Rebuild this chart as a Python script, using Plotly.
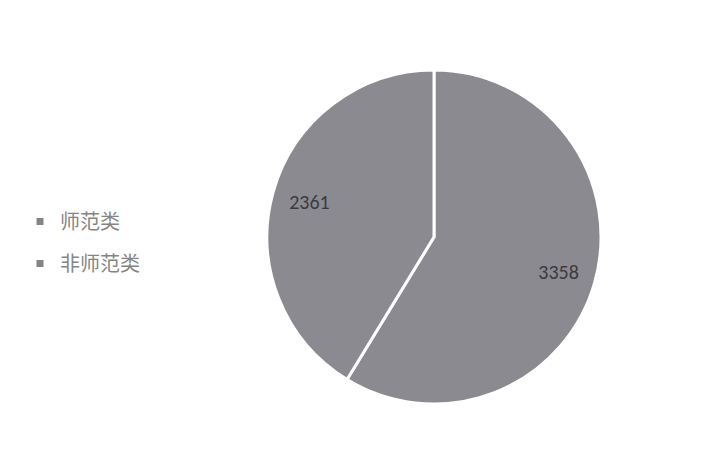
import plotly.graph_objects as go

categories = ["师范类", "非师范类"]
values = [3358, 2361]
slice_colors = ["#8b8a91", "#8b8a91"]
legend_marker_color = "#858585"

W, H = 701, 458
pie_domain = dict(x=[259 / W, 593 / W], y=[(H - 396) / H, (H - 62) / H])

fig = go.Figure()

# Main pie (slices + white separators)
fig.add_trace(go.Pie(
    labels=categories,
    values=values,
    sort=False,
    direction="clockwise",
    rotation=0,
    marker=dict(colors=slice_colors, line=dict(color="white", width=3)),
    textinfo="none",
    domain=pie_domain,
    hoverinfo="skip",
    showlegend=False,
))

# Transparent ring overlay used only to place the value labels further out
fig.add_trace(go.Pie(
    labels=categories,
    values=values,
    sort=False,
    direction="clockwise",
    rotation=0,
    hole=0.55,
    marker=dict(colors=["rgba(0,0,0,0)", "rgba(0,0,0,0)"], line=dict(width=0)),
    textinfo="value",
    textposition="inside",
    insidetextorientation="horizontal",
    textfont=dict(family="Carlito, Lato, Liberation Sans, sans-serif", size=20, color="#3a3a3e"),
    domain=pie_domain,
    hoverinfo="skip",
    showlegend=False,
))

# Legend entries
for i, name in enumerate(categories):
    fig.add_trace(go.Scatter(
        x=[None], y=[None], mode="markers", name=name,
        legendgroup=f"g{i}",
        marker=dict(symbol="square", size=7, color=legend_marker_color),
        hoverinfo="skip",
    ))

fig.update_layout(
    width=W, height=H,
    margin=dict(l=0, r=0, t=0, b=0),
    paper_bgcolor="white",
    plot_bgcolor="white",
    showlegend=True,
    xaxis=dict(visible=False),
    yaxis=dict(visible=False),
    legend=dict(
        x=12 / W, y=(H - 194) / H, xanchor="left", yanchor="top",
        font=dict(family="Noto Sans CJK SC", size=20, color="#858585"),
        tracegroupgap=13,
        itemwidth=30,
        bgcolor="rgba(0,0,0,0)",
    ),
)

fig.write_html("out.html")
